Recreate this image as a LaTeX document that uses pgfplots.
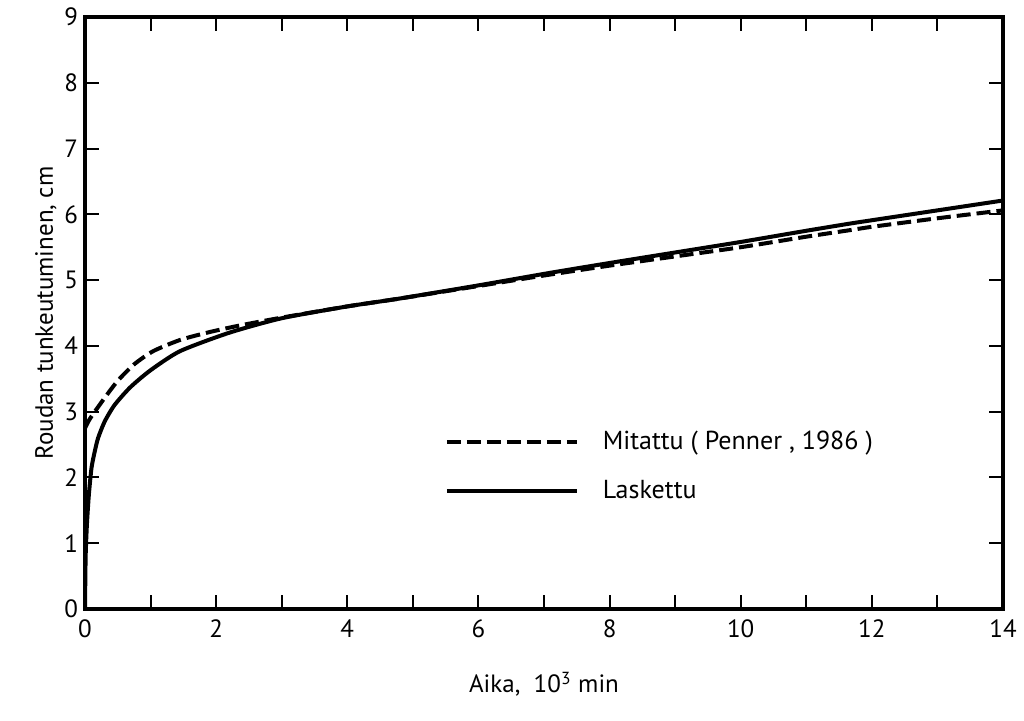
\documentclass[border=0pt]{standalone}
\usepackage{fontspec}
\setmainfont{PT Sans}
\usepackage{pgfplots}
\pgfplotsset{compat=1.18}
\begin{document}
\begin{tikzpicture}
\begin{axis}[
    width=459pt, height=296pt,
    scale only axis,
    xmin=0, xmax=14, ymin=0, ymax=9,
    xtick={0,2,...,14},
    minor xtick={1,3,...,13},
    ytick={0,1,...,9},
    tick align=inside,
    major tick length=7pt, minor tick length=7pt,
    axis line style={line width=1.8pt},
    every tick/.style={line width=1pt, black},
    ticklabel style={font=\fontsize{12.5}{14}\selectfont},
    /pgf/number format/assume math mode=true,
    xticklabel style={yshift=-2pt},
    xlabel={Aika,\ \ 10\textsuperscript{3} min},
    ylabel={Roudan tunkeutuminen, cm},
    label style={font=\fontsize{12.5}{14}\selectfont},
    xlabel style={yshift=-10pt},
    ylabel style={yshift=-3pt},
    legend style={draw=none, fill=none, at={(0.385,0.315)}, anchor=north west,
        font=\fontsize{13}{15}\selectfont, row sep=10pt, column sep=10pt},
    legend cell align=left,
    legend image code/.code={\draw[#1] (0pt,0pt) -- (65pt,0pt);},
]
\addplot[black, line width=2pt, dash pattern=on 7pt off 3pt, smooth, tension=0.4] coordinates {
    (0,2.75) (0.08,2.9) (0.3,3.21) (0.5,3.47) (0.75,3.72) (1.04,3.92)
    (1.45,4.09) (1.9,4.21) (2.36,4.31) (3,4.43) (4,4.6) (4.8,4.72)
    (6,4.91) (7,5.07) (8,5.22) (9,5.36) (10,5.5) (11,5.66) (11.67,5.76)
    (12,5.81) (13,5.94) (14,6.06)
};
\addlegendentry{Mitattu ( Penner , 1986 )}
\addplot[black, line width=2pt, smooth, tension=0.4] coordinates {
    (0,0) (0.01,0.8) (0.03,1.3) (0.06,1.75) (0.1,2.15) (0.15,2.4)
    (0.2,2.6) (0.3,2.85) (0.45,3.1) (0.69,3.37) (1.0,3.63) (1.45,3.92)
    (2.2,4.2) (3,4.42) (4,4.6) (4.8,4.72) (6,4.92) (7.09,5.11) (8,5.26)
    (9,5.42) (10,5.58) (11,5.75) (11.67,5.86) (12,5.91) (13,6.06) (14,6.21)
};
\addlegendentry{Laskettu}
\end{axis}
\path ([xshift=-42.5pt,yshift=-56pt]current axis.south west) rectangle ([xshift=10.5pt,yshift=8.5pt]current axis.north east);
\end{tikzpicture}
\end{document}
